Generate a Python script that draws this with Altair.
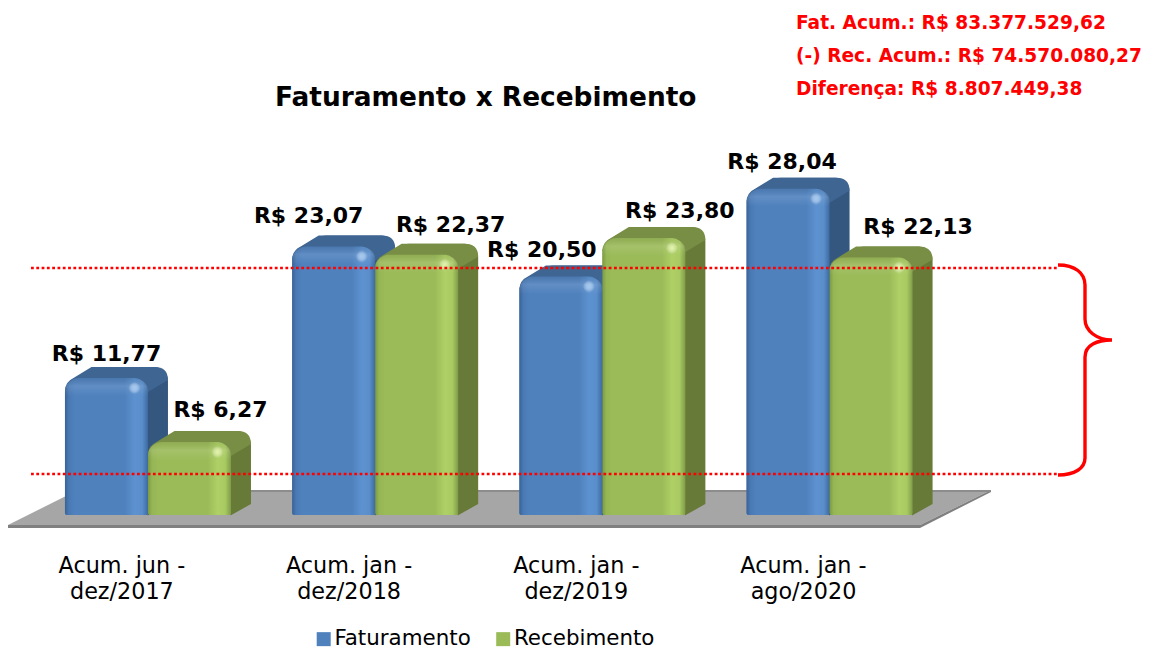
import altair as alt
import pandas as pd

PERIODS = ["Acum. jun -|dez/2017", "Acum. jan -|dez/2018", "Acum. jan -|dez/2019", "Acum. jan -|ago/2020"]
SERIES = ["Faturamento", "Recebimento"]
FATURAMENTO = [11.77, 23.07, 20.50, 28.04]
RECEBIMENTO = [6.27, 22.37, 23.80, 22.13]
LABELS_F = ["R$ 11,77", "R$ 23,07", "R$ 20,50", "R$ 28,04"]
LABELS_R = ["R$ 6,27", "R$ 22,37", "R$ 23,80", "R$ 22,13"]
NOTES = ["Fat. Acum.: R$ 83.377.529,62", "(-) Rec. Acum.: R$ 74.570.080,27", "Diferença: R$ 8.807.449,38"]
TITLE = "Faturamento x Recebimento"

rows = []
for i, p in enumerate(PERIODS):
    rows.append(dict(period=p, series=SERIES[0], value=FATURAMENTO[i], label=LABELS_F[i], idx=i * 2))
    rows.append(dict(period=p, series=SERIES[1], value=RECEBIMENTO[i], label=LABELS_R[i], idx=i * 2 + 1))
df = pd.DataFrame(rows)
one = pd.DataFrame({"a": [0]})

FONT = "DejaVu Sans"
# label nudges (dx, dy) per bar, page layout only
NUDGE = [(0, -24), (31, -32), (-25, -30), (34, -30), (-19, -26), (36, -27), (-6, -27), (47, -30)]

STYLE = {
    "Faturamento": dict(
        base="#4f81bd", side="#34577f", top="#3f6593", glow="#9cc8f5",
        stops=["#3a6394", "#4a7ab6", "#4f81bd", "#4f81bd", "#5d92d0", "#5a8ecb", "#3d6aa0"]),
    "Recebimento": dict(
        base="#9bbb59", side="#677a38", top="#788e45", glow="#e2f79a",
        stops=["#7b9a44", "#96b655", "#9bbb59", "#9bbb59", "#aed065", "#a9ca62", "#7f9c48"]),
}
OFFS = [0, 0.05, 0.12, 0.72, 0.84, 0.93, 1]
RADII = dict(cornerRadiusTopLeft=14, cornerRadiusTopRight=14, cornerRadiusBottomLeft=2, cornerRadiusBottomRight=2)


def grad_h(cols):
    return {"gradient": "linear", "x1": 0, "y1": 0, "x2": 1, "y2": 0,
            "stops": [{"offset": o, "color": c} for o, c in zip(OFFS, cols)]}


BEVEL = {"gradient": "linear", "x1": 0, "y1": 0, "x2": 0, "y2": 1, "stops": [
    {"offset": 0, "color": "rgba(0,0,0,0.08)"},
    {"offset": 0.45, "color": "rgba(255,255,255,0.10)"},
    {"offset": 1, "color": "rgba(255,255,255,0)"}]}

axis_x = alt.Axis(title=None, domain=False, ticks=False, labelAngle=0, labelFont=FONT, labelFontSize=22.3,
                  labelColor="#000000", labelExpr="split(datum.label, '|')", labelLineHeight=26,
                  labelPadding=0, offset=-86, labelLimit=300, labelBaseline="middle", labelOffset=-26)
x_scale = alt.Scale(domain=PERIODS, range=[26.3, 935.1], paddingInner=0.27, paddingOuter=0.135)
y_scale = alt.Scale(domain=[0, 43.56], range=[507, 0])
X = alt.X("period:N", scale=x_scale, axis=axis_x, sort=PERIODS)
XO = alt.XOffset("series:N", scale=alt.Scale(domain=SERIES, range=[0, 166]), sort=SERIES)
XO_BACK = alt.XOffset("series:N", scale=alt.Scale(domain=SERIES, range=[20, 186]), sort=SERIES)
Y = alt.Y("value:Q", scale=y_scale, axis=None, stack=None)


def sym(path, fill, data=None, **enc):
    return alt.Chart(one if data is None else data).mark_point(
        shape=path, size=4, filled=True, fill=fill, opacity=1, strokeWidth=0).encode(**enc)


def outline(path, **mk):
    return alt.Chart(one).mark_point(shape=path, size=4, filled=False, opacity=1, **mk).encode(
        x=alt.value(0), y=alt.value(0))


layers = []
# floor
layers.append(sym("M0,517L912,517L983,482L70,482Z", "#a6a6a6", x=alt.value(0), y=alt.value(0)))
layers.append(sym("M0,517L912,517L983,482L983,484L912,520L0,520Z", "#808080", x=alt.value(0), y=alt.value(0)))
layers.append(sym("M70,482L983,482L982,484L67,484Z", "#8c8c8c", x=alt.value(0), y=alt.value(0)))

legend = alt.Legend(title=None, orient="none", legendX=305, legendY=620, direction="horizontal",
                    symbolType="square", symbolSize=196, symbolStrokeWidth=0, labelFont=FONT,
                    labelFontSize=21.4, labelColor="#000000", labelOffset=0, columnPadding=21.5,
                    symbolOpacity=1, labelLimit=300)
layers.append(alt.Chart(df).transform_calculate(zero="0").mark_bar(strokeWidth=0, **RADII).encode(
    x=X, xOffset=XO, y=Y, y2=alt.Y2("zero:Q"),
    color=alt.Color("series:N", scale=alt.Scale(domain=SERIES, range=[STYLE[s]["base"] for s in SERIES]),
                    legend=legend, sort=SERIES)))

for s in SERIES:
    st = STYLE[s]
    d = df[df.series == s]
    pos = dict(x=X, xOffset=XO)
    # side/back box
    layers.append(alt.Chart(d).transform_calculate(zero="0").mark_bar(
        fill=st["side"], yOffset=-11, y2Offset=-11,
        cornerRadiusTopLeft=14, cornerRadiusTopRight=14).encode(y=Y, y2=alt.Y2("zero:Q"), x=X, xOffset=XO_BACK))
    # bottom of side face
    layers.append(sym("M41,0.5L61.5,-11L41,-11Z", st["side"], d.assign(zero=0), y=alt.Y("zero:Q", scale=y_scale, axis=None), **pos))
    # top face
    layers.append(sym("M-41.5,13Q-41.5,4 -33,0L-15,-11L48,-11Q61.5,-11 61.5,2L41.5,14Z", st["top"], d, y=Y, **pos))
    # front
    layers.append(alt.Chart(d).transform_calculate(zero="0").mark_bar(
        fill=grad_h(st["stops"]), **RADII).encode(y=Y, y2=alt.Y2("zero:Q"), **pos))
    # bevel along the top edge
    layers.append(sym("M-41.5,18L-41.5,14Q-41.5,0 -27.5,0L27.5,0Q41.5,0 41.5,14L41.5,18Z", BEVEL, d, y=Y, **pos))
    # corner glint
    glint = {"gradient": "radial", "x1": 0.5, "y1": 0.5, "r1": 0, "x2": 0.5, "y2": 0.5, "r2": 0.5,
             "stops": [{"offset": 0, "color": st["glow"]},
                       {"offset": 1, "color": "rgba(255,255,255,0)"}]}
    layers.append(sym("M22,10a6,6 0 1,0 12,0a6,6 0 1,0 -12,0Z", glint, d, y=Y, **pos))

# dotted guides and brace
for yy in (260, 466):
    layers.append(alt.Chart(one).mark_rule(color="#ff0000", strokeWidth=2.6, strokeDash=[2.8, 2.5]).encode(
        x=alt.value(23), x2=alt.value(1050), y=alt.value(yy)))
layers.append(outline("M1050,257C1067,257 1077,265 1077,277L1077,311C1077,323 1089,332 1104,332"
                      "C1089,332 1077,337 1077,349L1077,450C1077,460 1067,467 1050,467",
                      stroke="#ff0000", strokeWidth=3.4))

# value labels
for i, (dx, dy) in enumerate(NUDGE):
    layers.append(alt.Chart(df[df.idx == i]).mark_text(
        font=FONT, fontSize=22, fontWeight="bold", color="#000000", dx=dx, dy=dy, baseline="middle").encode(
        text="label:N", y=Y, x=X, xOffset=XO))

# red notes
for n, yy in zip(NOTES, (15, 48, 81)):
    layers.append(alt.Chart(pd.DataFrame({"t": [n]})).mark_text(
        font=FONT, fontSize=18.6, fontWeight="bold", color="#ff0000", align="left", baseline="middle").encode(
        text="t:N", x=alt.value(788), y=alt.value(yy)))

chart = alt.layer(*layers).resolve_scale(xOffset="independent").properties(
    width=1135, height=643, padding=0, autosize=alt.AutoSizeParams(type="none"),
    title=alt.TitleParams(TITLE, font=FONT, fontSize=26.4, fontWeight="bold", color="#000000", anchor="start",
                          frame="group", dx=267, dy=116, offset=0, baseline="middle"),
    background="#ffffff",
).configure_view(stroke=None)

chart.save("out.html", embed_options={"renderer": "svg", "actions": False})
